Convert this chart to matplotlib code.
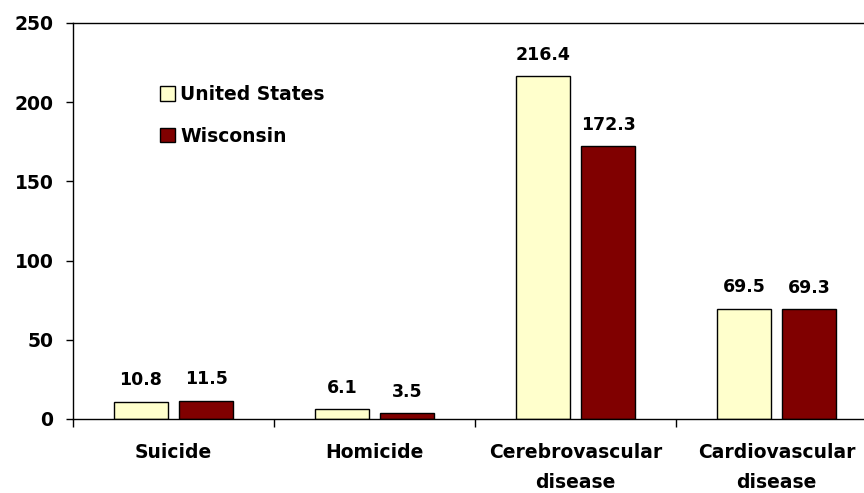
import numpy as np
from matplotlib import pyplot as plt
from matplotlib.ticker import FixedLocator

categories = ["Suicide", "Homicide", "Cerebrovascular\ndisease", "Cardiovascular\ndisease"]
us_values = [10.8, 6.1, 216.4, 69.5]
wi_values = [11.5, 3.5, 172.3, 69.3]
series_names = ["United States", "Wisconsin"]
y_ticks = [0, 50, 100, 150, 200, 250]

plt.rcParams["font.family"] = ["DejaVu Sans"]
plt.rcParams["font.weight"] = "bold"

fig = plt.figure(figsize=(8.64, 4.93), dpi=100)
# axes run past the right edge of the figure, as in the original crop
ax = fig.add_axes([73 / 864, 1 - 419 / 493, 804 / 864, 396 / 493])

x = np.arange(len(categories))
w = 0.27
off = 0.162
b1 = ax.bar(x - off, us_values, w, color="#FFFFCC", edgecolor="black", linewidth=1, label=series_names[0])
b2 = ax.bar(x + off, wi_values, w, color="#800000", edgecolor="black", linewidth=1, label=series_names[1])

for bars, vals in ((b1, us_values), (b2, wi_values)):
    for r, v in zip(bars, vals):
        ax.annotate(f"{v:.1f}", (r.get_x() + r.get_width() / 2, v), xytext=(0, 9),
                    textcoords="offset points", ha="center", va="bottom", fontsize=12.5)

ax.set_xlim(-0.5, len(categories) - 0.5)
ax.set_ylim(0, 250)
ax.set_yticks(y_ticks)
ax.tick_params(axis="y", labelsize=13.5, length=5, width=1, pad=9, direction="out")
ax.set_xticks(x)
ax.set_xticklabels(categories, fontsize=13.5, linespacing=1.75)
ax.tick_params(axis="x", which="major", length=0, pad=17)
ax.xaxis.set_minor_locator(FixedLocator(np.arange(len(categories) + 1) - 0.5))
ax.tick_params(axis="x", which="minor", length=6, width=1, direction="out")

for s in ax.spines.values():
    s.set_linewidth(1)

ax.legend(frameon=False, fontsize=13.5, handlelength=0.8, handleheight=0.8,
          handletextpad=0.3, labelspacing=1.2, loc="upper left", borderpad=0,
          bbox_to_anchor=(0.108, 0.843), borderaxespad=0)

fig.savefig("out.png", dpi=100)
